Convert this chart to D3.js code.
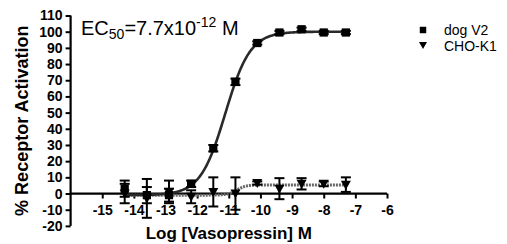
<!DOCTYPE html>
<html>
<meta charset="utf-8">
<head>
  <title>Vasopressin dose response</title>
</head>

<style>
body { margin: 0; background: #fff; }
text {
  font-family: Arial, "Liberation Sans", Helvetica, sans-serif;
  fill: #000;
}
.tick text { font-weight: bold; font-size: 14px; }
.title { font-weight: bold; font-size: 17px; }
.legend text { font-size: 14px; }
</style>

<body>
  <svg width="507" height="244"></svg>

  <script src="https://cdnjs.cloudflare.com/ajax/libs/d3/7.8.5/d3.min.js"></script>

  <script>
// log [vasopressin] doses (5-fold dilutions)
var doses = [-14.29, -13.59, -12.89, -12.19, -11.49, -10.79, -10.10, -9.40, -8.70, -8.00, -7.30]
// dog V2 response (% activation) and error
var dogV2 = [3, -1, -1, 6, 28, 69, 93, 99.5, 101.5, 99.5, 99.5]
var dogV2Err = [5, 5, 4, 2, 2, 2, 1, 1, 1, 1, 1]
// CHO-K1 response and error
var choK1 = [0, -3, 1, -2, 1, 0, 6.5, 3, 6, 6, 5.5]
var choK1Err = [6, 12, 7, 4, 9, 10, 1, 6.5, 3.5, 1.5, 4.5]
// fitted sigmoid parameters [bottom, top, logEC50, hill]
var dogFit = [-1, 100, -11.11, 1.1]
var choFit = [-1, 5.3, -10.75, 3]

var xTicks = [-15, -14, -13, -12, -11, -10, -9, -8, -7, -6]
var yTicks = [-20, -10, 0, 10, 20, 30, 40, 50, 60, 70, 80, 90, 100, 110]

var svg = d3.select('svg')
var x = d3.scaleLinear().domain([-16, -6]).range([70.6, 387])
var y = d3.scaleLinear().domain([-20, 110]).range([225.9, 15.5])
var plain = function(d) { return String(d) }

function sigmoid(p, lx) {
  return p[0] + (p[1] - p[0]) / (1 + Math.pow(10, (p[2] - lx) * p[3]))
}

// y axis
var yAxis = svg.append('g')
  .attr('transform', 'translate(' + x(-16) + ',0)')
  .call(d3.axisLeft(y).tickValues(yTicks).tickFormat(plain).tickSize(5).tickPadding(3))
yAxis.select('.domain').attr('stroke-width', 2.2).attr('d', 'M0,' + y(-20) + 'V' + y(110))
yAxis.selectAll('.tick line').attr('stroke-width', 2)

// x axis on y = 0
var xAxis = svg.append('g')
  .attr('transform', 'translate(0,' + y(0) + ')')
  .call(d3.axisBottom(x).tickValues(xTicks).tickFormat(plain).tickSize(5).tickPadding(7))
xAxis.select('.domain').attr('stroke-width', 2.2).attr('d', 'M' + x(-16) + ',0H' + x(-6))
xAxis.selectAll('.tick line').attr('stroke-width', 2)

// axis titles
svg.append('text').attr('class', 'title')
  .attr('x', (x(-16) + x(-6)) / 2).attr('y', 239)
  .attr('text-anchor', 'middle')
  .text('Log [Vasopressin] M')
svg.append('text').attr('class', 'title')
  .attr('transform', 'translate(28,' + (y(-20) + y(110)) / 2 + ') rotate(-90)')
  .attr('text-anchor', 'middle')
  .style('font-size', '18px')
  .text('% Receptor Activation')

// fit curves
var curveX = d3.range(doses[0], doses[doses.length - 1] + 0.001, 0.02)
var line = d3.line()
svg.append('path')
  .attr('d', line(curveX.map(function(lx) { return [x(lx), y(sigmoid(choFit, lx))] })))
  .attr('fill', 'none').attr('stroke', '#666').attr('stroke-width', 3)
  .attr('stroke-dasharray', '2,1')
svg.append('path')
  .attr('d', line(curveX.map(function(lx) { return [x(lx), y(sigmoid(dogFit, lx))] })))
  .attr('fill', 'none').attr('stroke', '#2a2a2a').attr('stroke-width', 2.6)

// error bars
function errorBars(vals, errs) {
  var g = svg.append('g').attr('stroke', '#000').attr('stroke-width', 2)
  doses.forEach(function(d, i) {
    var cx = x(d), lo = y(vals[i] - errs[i]), hi = y(vals[i] + errs[i])
    g.append('line').attr('x1', cx).attr('x2', cx).attr('y1', lo).attr('y2', hi)
    g.append('line').attr('x1', cx - 5).attr('x2', cx + 5).attr('y1', lo).attr('y2', lo)
    g.append('line').attr('x1', cx - 5).attr('x2', cx + 5).attr('y1', hi).attr('y2', hi)
  })
}
errorBars(choK1, choK1Err)
errorBars(dogV2, dogV2Err)

var square = d3.symbol().type(d3.symbolSquare)
var tri = 'M-5,-4L5,-4L0,5Z'

svg.append('g').selectAll('path')
  .data(doses)
  .enter()
  .append('path')
  .attr('d', tri)
  .attr('transform', function(d, i) { return 'translate(' + x(d) + ',' + y(choK1[i]) + ')' })

svg.append('g').selectAll('path')
  .data(doses)
  .enter()
  .append('path')
  .attr('d', square.size(68))
  .attr('transform', function(d, i) { return 'translate(' + x(d) + ',' + y(dogV2[i]) + ')' })

// EC50 label
var ec = svg.append('text').attr('x', 81).attr('y', 35).style('font-size', '20px')
ec.append('tspan').text('EC')
ec.append('tspan').attr('dy', 4).style('font-size', '14px').text('50')
ec.append('tspan').attr('dy', -4).text('=7.7x10')
ec.append('tspan').attr('dy', -8).style('font-size', '14px').text('-12')
ec.append('tspan').attr('dy', 8).text(' M')

// legend
var legend = svg.append('g').attr('class', 'legend')
legend.append('path').attr('d', square.size(42)).attr('transform', 'translate(423,30)')
legend.append('path').attr('d', 'M-4,-3L4,-3L0,4Z').attr('transform', 'translate(423,45)')
legend.append('text').attr('x', 444).attr('y', 35).text('dog V2')
legend.append('text').attr('x', 444).attr('y', 50.5).text('CHO-K1')
  </script>
</body>
</html>
